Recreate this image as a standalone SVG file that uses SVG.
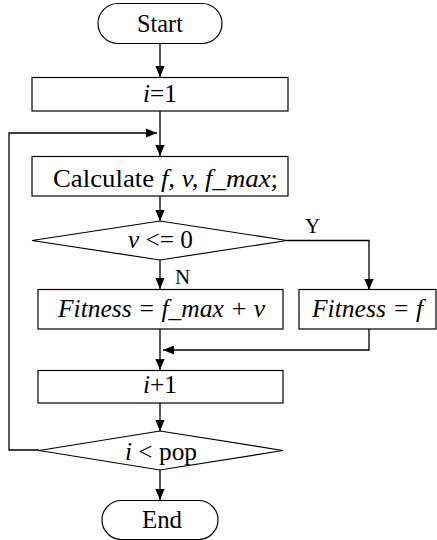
<svg xmlns="http://www.w3.org/2000/svg" width="437" height="540" viewBox="0 0 437 540">
<defs>
<marker id="arr" viewBox="0 0 10 10" refX="10" refY="5" markerWidth="11" markerHeight="11" markerUnits="userSpaceOnUse" orient="auto">
<path d="M0,0.8 L10,5 L0,9.2 Z" fill="#000"/>
</marker>
<style>
.s{fill:#fff;stroke:#000;stroke-width:1.2}
.c{fill:none;stroke:#000;stroke-width:1.3}
text{font-family:"Liberation Serif","Times New Roman",serif;font-size:25px;fill:#000}
.i{font-style:italic}
.l{font-size:21px}
</style>
</defs>
<g id="connectors">
<line class="c" x1="160" y1="43" x2="160" y2="77" marker-end="url(#arr)"/>
<line class="c" x1="160" y1="111" x2="160" y2="156" marker-end="url(#arr)"/>
<polyline class="c" points="39,450 9,450 9,133 157,133" marker-end="url(#arr)"/>
<line class="c" x1="160" y1="196" x2="160" y2="221" marker-end="url(#arr)"/>
<line class="c" x1="160" y1="260" x2="160" y2="289" marker-end="url(#arr)"/>
<polyline class="c" points="287,240.5 369,240.5 369,290" marker-end="url(#arr)"/>
<line class="c" x1="160" y1="329" x2="160" y2="370" marker-end="url(#arr)"/>
<polyline class="c" points="369,329 369,350 163,350" marker-end="url(#arr)"/>
<line class="c" x1="160" y1="403" x2="160" y2="431" marker-end="url(#arr)"/>
<line class="c" x1="160" y1="470" x2="160" y2="500" marker-end="url(#arr)"/>
<text class="l" x="305" y="233">Y</text>
<text class="l" x="175" y="284">N</text>
</g>
<g id="start">
<rect class="s" x="98" y="3.5" width="124" height="40" rx="20" ry="20"/>
<text x="137" y="32" textLength="46" lengthAdjust="spacingAndGlyphs">Start</text>
</g>
<g id="init">
<rect class="s" x="32" y="77.5" width="256" height="33.5"/>
<text x="143" y="102" textLength="34" lengthAdjust="spacingAndGlyphs"><tspan class="i">i</tspan>=1</text>
</g>
<g id="calc">
<rect class="s" x="32" y="156.5" width="256" height="39.5"/>
<text x="53" y="187" textLength="225" lengthAdjust="spacingAndGlyphs">Calculate <tspan class="i">f, v, f_max</tspan>;</text>
</g>
<g id="cond1">
<polygon class="s" points="32,240.5 160,221 287,240.5 160,260"/>
<text x="128" y="248" textLength="65" lengthAdjust="spacingAndGlyphs"><tspan class="i">v</tspan> &lt;= 0</text>
</g>
<g id="fitness1">
<rect class="s" x="38" y="289.5" width="245" height="39.5"/>
<text class="i" x="58" y="317" textLength="207" lengthAdjust="spacingAndGlyphs">Fitness = f_max + v</text>
</g>
<g id="fitness2">
<rect class="s" x="299" y="289.5" width="137" height="39.5"/>
<text class="i" x="312" y="317" textLength="111" lengthAdjust="spacingAndGlyphs">Fitness = f</text>
</g>
<g id="incr">
<rect class="s" x="38" y="370.5" width="245" height="32.5"/>
<text x="143" y="393" textLength="34" lengthAdjust="spacingAndGlyphs"><tspan class="i">i</tspan>+1</text>
</g>
<g id="cond2">
<polygon class="s" points="39,450.5 160,431 283,450.5 160,470"/>
<text x="125" y="460" textLength="72" lengthAdjust="spacingAndGlyphs"><tspan class="i">i</tspan> &lt; pop</text>
</g>
<g id="end">
<rect class="s" x="102" y="500.5" width="116" height="39" rx="19.5" ry="19.5"/>
<text x="142" y="528" textLength="40" lengthAdjust="spacingAndGlyphs">End</text>
</g>
</svg>
